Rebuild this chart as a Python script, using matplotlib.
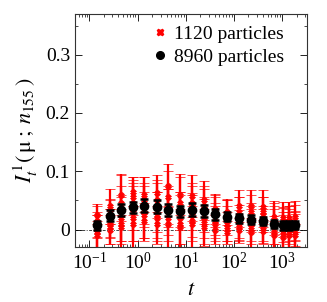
import numpy as np
import matplotlib
matplotlib.use('Agg')
import matplotlib.pyplot as plt
from matplotlib.ticker import MultipleLocator, LogLocator
from matplotlib.lines import Line2D

plt.rcParams['font.family'] = ['Liberation Serif', 'DejaVu Serif']
plt.rcParams['mathtext.fontset'] = 'stix'

# time points
t = [0.144, 0.263, 0.45, 0.79, 1.38, 2.5, 4.3, 7.6, 13.2, 23.4, 41, 72,
     126, 224, 398, 692, 1070, 1380, 1820]

# 8960 particles
black_y = [0.007, 0.024, 0.033, 0.038, 0.041, 0.039, 0.033, 0.031, 0.034, 0.032,
           0.026, 0.022, 0.019, 0.017, 0.014, 0.010, 0.007, 0.007, 0.008]
black_err = [0.008, 0.009, 0.010, 0.010, 0.011, 0.011, 0.010, 0.010, 0.011, 0.010,
             0.009, 0.008, 0.008, 0.008, 0.007, 0.007, 0.007, 0.007, 0.007]

# 1120 particles (several runs)
red_a = [0.015, 0.040, 0.060, 0.065, 0.060, 0.062, 0.075, 0.060, 0.058, 0.050,
         0.035, 0.030, 0.040, 0.040, 0.038, 0.022, 0.020, 0.020, 0.022]
red_a_err = [0.028, 0.030, 0.035, 0.025, 0.030, 0.032, 0.037, 0.035, 0.036, 0.033,
             0.026, 0.022, 0.027, 0.027, 0.029, 0.027, 0.027, 0.027, 0.027]
red_b = [-0.005, 0.020, 0.037, 0.045, 0.050, 0.040, 0.055, 0.045, 0.040, 0.035,
         0.025, 0.020, 0.020, 0.030, 0.025, 0.010, 0.008, 0.010, 0.012]
red_b_err = [0.030, 0.033, 0.057, 0.045, 0.040, 0.045, 0.045, 0.045, 0.040, 0.040,
             0.035, 0.030, 0.035, 0.030, 0.030, 0.035, 0.030, 0.030, 0.030]
red_c = [-0.010, 0.010, 0.020, 0.030, 0.025, 0.025, 0.030, 0.020, 0.025, 0.020,
         0.010, 0.005, 0.005, 0.010, 0.010, -0.005, 0.000, 0.000, -0.002]
red_c_err = [0.025, 0.025, 0.040, 0.050, 0.040, 0.040, 0.040, 0.045, 0.038, 0.035,
             0.030, 0.025, 0.028, 0.030, 0.030, 0.028, 0.030, 0.030, 0.028]
red_d = [0.005, 0.000, 0.005, 0.010, 0.015, 0.010, 0.010, 0.005, 0.010, 0.005,
         0.000, -0.005, 0.000, -0.005, -0.003, -0.010, -0.012, -0.010, -0.010]
red_d_err = [0.020, 0.025, 0.030, 0.030, 0.030, 0.030, 0.030, 0.030, 0.030, 0.030,
             0.025, 0.020, 0.020, 0.025, 0.020, 0.025, 0.022, 0.022, 0.020]
red_e = [0.025, 0.030, 0.045, 0.055, 0.040, 0.050, 0.040, 0.035, 0.045, 0.040,
         0.030, 0.025, 0.030, 0.020, 0.030, 0.015, 0.012, 0.015, 0.005]
red_e_err = [0.015, 0.020, 0.030, 0.030, 0.035, 0.030, 0.035, 0.030, 0.030, 0.030,
             0.025, 0.025, 0.025, 0.025, 0.025, 0.025, 0.025, 0.025, 0.025]
red_f = [0.000, 0.005, 0.010, 0.020, 0.030, 0.020, 0.020, 0.010, 0.015, 0.012,
         0.015, 0.010, 0.012, 0.005, 0.005, 0.005, -0.005, 0.005, 0.002]
red_f_err = [0.030, 0.030, 0.045, 0.055, 0.050, 0.045, 0.050, 0.050, 0.045, 0.040,
             0.030, 0.030, 0.030, 0.030, 0.030, 0.030, 0.030, 0.030, 0.030]

fig = plt.figure(figsize=(3.27, 3.02), dpi=100)
ax = fig.add_axes([0.229, 0.182, 0.71, 0.772])

ax.axhline(0, color='#444444', lw=0.7, ls=(0, (3, 1.5, 1, 1.5)), zorder=1)

runs = [(red_a, red_a_err), (red_b, red_b_err), (red_c, red_c_err),
        (red_d, red_d_err), (red_e, red_e_err), (red_f, red_f_err)]
for y, e in runs:
    ax.errorbar(t, y, yerr=e, fmt='X', color='red', ms=4, mew=0.5, elinewidth=1.6,
                capsize=3.5, capthick=1.6, zorder=2)

ax.errorbar(t, black_y, yerr=black_err, fmt='o', color='black', ms=6, elinewidth=1.8,
            capsize=3, capthick=1.8, zorder=3)

ax.set_xscale('log')
ax.set_xlim(0.05, 3300)
ax.set_ylim(-0.03, 0.37)
ax.set_yticks([0, 0.1, 0.2, 0.3])
ax.set_yticklabels(['0', '0.1', '0.2', '0.3'])
ax.yaxis.set_minor_locator(MultipleLocator(0.05))
ax.xaxis.set_major_locator(LogLocator(base=10, numticks=20))
ax.xaxis.set_minor_locator(LogLocator(base=10, subs=np.arange(2, 10), numticks=20))
ax.tick_params(which='both', direction='in', top=True, right=True, labelsize=14)
ax.tick_params(which='major', length=5, width=0.6)
ax.tick_params(which='minor', length=2.5, width=0.5)
for s in ax.spines.values():
    s.set_linewidth(0.8)
    s.set_color('#333333')

ax.set_xlabel(r'$t$', fontsize=16, labelpad=6)
ax.set_ylabel(r'$I^{\,1}_{t}(\,\mathrm{\mu}\;;\,n_{155}\,)$', fontsize=16, labelpad=4)

handles = [Line2D([], [], ls='none', marker='X', color='red', ms=4.5),
           Line2D([], [], ls='none', marker='o', color='black', ms=5.5)]
ax.legend(handles, ['1120 particles', '8960 particles'], loc='upper left',
          bbox_to_anchor=(0.275, 1.0), frameon=False, fontsize=14,
          handletextpad=0.2, handlelength=1.0, labelspacing=0.25,
          borderaxespad=0.3, borderpad=0.3)

fig.savefig('out.png', dpi=100)
